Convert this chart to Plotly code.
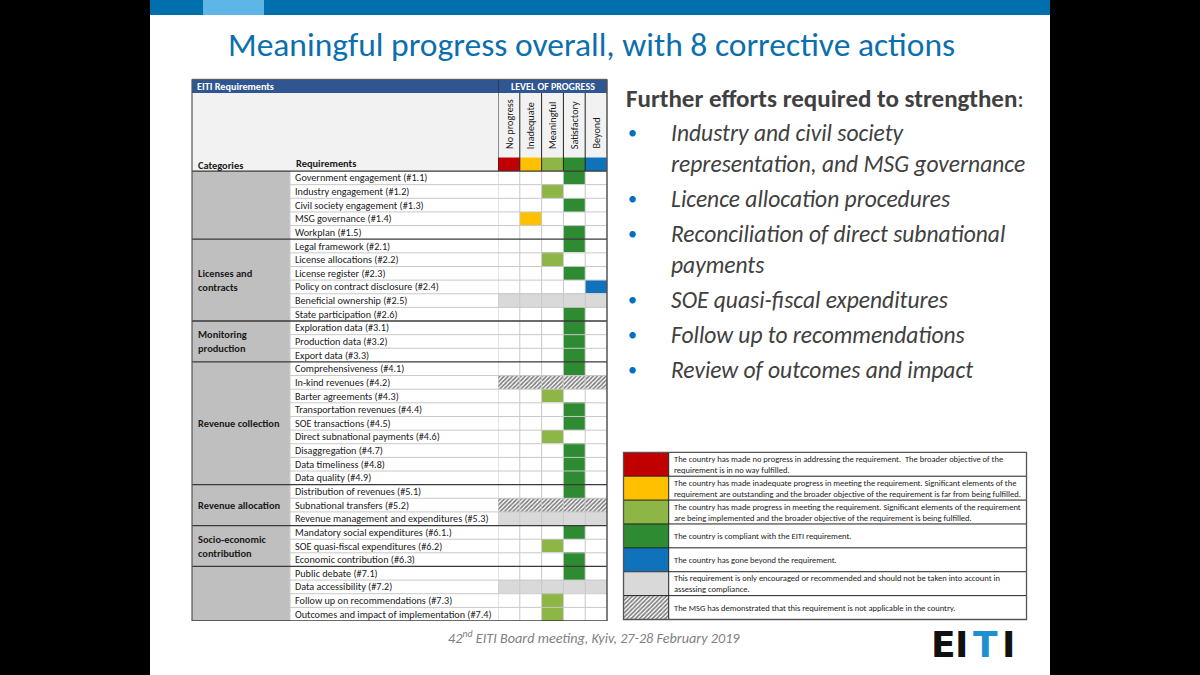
import plotly.graph_objects as go

# ---------------- data ----------------
TITLE = "Meaningful progress overall, with 8 corrective actions"
LEVELS = ["No progress", "Inadequate", "Meaningful", "Satisfactory", "Beyond"]
LEVEL_COLORS = ["#C00000", "#FFC000", "#8DB646", "#2E8B32", "#0F72BA"]
ENCOURAGED_COLOR = "#D9D9D9"

CATEGORY_LABELS = ["", "Licenses and<br>contracts", "Monitoring<br>production",
                   "Revenue collection", "Revenue allocation",
                   "Socio-economic<br>contribution", ""]
CATEGORY_SIZES = [5, 6, 3, 9, 3, 3, 4]

REQUIREMENTS = [
    "Government engagement (#1.1)", "Industry engagement (#1.2)",
    "Civil society engagement (#1.3)", "MSG governance (#1.4)", "Workplan (#1.5)",
    "Legal framework (#2.1)", "License allocations (#2.2)", "License register (#2.3)",
    "Policy on contract disclosure (#2.4)", "Beneficial ownership (#2.5)",
    "State participation (#2.6)",
    "Exploration data (#3.1)", "Production data (#3.2)", "Export data (#3.3)",
    "Comprehensiveness (#4.1)", "In-kind revenues (#4.2)", "Barter agreements (#4.3)",
    "Transportation revenues (#4.4)", "SOE transactions (#4.5)",
    "Direct subnational payments (#4.6)", "Disaggregation (#4.7)",
    "Data timeliness (#4.8)", "Data quality (#4.9)",
    "Distribution of revenues (#5.1)", "Subnational transfers (#5.2)",
    "Revenue management and expenditures (#5.3)",
    "Mandatory social expenditures (#6.1.)", "SOE quasi-fiscal expenditures (#6.2)",
    "Economic contribution (#6.3)",
    "Public debate (#7.1)", "Data accessibility (#7.2)",
    "Follow up on recommendations (#7.3)", "Outcomes and impact of implementation (#7.4)",
]
# S=Satisfactory, M=Meaningful, I=Inadequate, B=Beyond, E=Encouraged only, NA=not applicable
PROGRESS = ["S", "M", "S", "I", "S",
            "S", "M", "S", "B", "E", "S",
            "S", "S", "S",
            "S", "NA", "M", "S", "S", "M", "S", "S", "S",
            "S", "NA", "E",
            "S", "M", "S",
            "S", "E", "M", "M"]
CODE_TO_LEVEL = {"N": 0, "I": 1, "M": 2, "S": 3, "B": 4}

LEGEND_TEXTS = [
    "The country has made no progress in addressing the requirement.  The broader objective of the<br>requirement is in no way fulfilled.",
    "The country has made inadequate progress in meeting the requirement. Significant elements of the<br>requirement are outstanding and the broader objective of the requirement is far from being fulfilled.",
    "The country has made progress in meeting the requirement. Significant elements of the requirement<br>are being implemented and the broader objective of the requirement is being fulfilled.",
    "The country is compliant with the EITI requirement.",
    "The country has gone beyond the requirement.",
    "This requirement is only encouraged or recommended and should not be taken into account in<br>assessing compliance.",
    "The MSG has demonstrated that this requirement is not applicable in the country.",
]

SUBHEAD = "<b>Further efforts required to strengthen</b>:"
BULLETS = [
    ["Industry and civil society", "representation, and MSG governance"],
    ["Licence allocation procedures"],
    ["Reconciliation of direct subnational", "payments"],
    ["SOE quasi-fiscal expenditures"],
    ["Follow up to recommendations"],
    ["Review of outcomes and impact"],
]
FOOTER = "42<sup>nd</sup> EITI Board meeting, Kyiv, 27-28 February 2019"
LOGO_LETTERS = ["E", "I", "T", "I"]
LOGO_COLORS = ["#111111", "#111111", "#1E90D0", "#111111"]

# ---------------- layout helpers ----------------
W, H = 1200, 675
def px(x): return x / W
def py(y): return 1 - y / H

FONT = "Carlito, Lato, sans-serif"
N = len(REQUIREMENTS)
T_LEFT, T_CAT, T_LVL, T_RIGHT = 192, 290, 498, 607
T_TOP, HEAD_GRAY, STRIPE_TOP, ROWS_TOP, ROWS_BOT = 79.3, 93, 157.4, 171, 621

fig = go.Figure()

HATCH = dict(shape="/", fgcolor="#000000", bgcolor="white", size=3, solidity=0.55)

# ---- table cells ----
for li, (lname, lcol) in enumerate(zip(LEVELS, LEVEL_COLORS)):
    rows = [i for i, c in enumerate(PROGRESS) if CODE_TO_LEVEL.get(c) == li]
    ys = [-1] + rows  # header colour stripe + cells
    fig.add_trace(go.Bar(orientation="h", y=ys, x=[1] * len(ys), base=[li - 0.5] * len(ys),
                         width=1, marker=dict(color=lcol, line=dict(width=0)),
                         name=lname, showlegend=False, hoverinfo="skip"))
rows_e = [i for i, c in enumerate(PROGRESS) if c == "E"]
fig.add_trace(go.Bar(orientation="h", y=rows_e, x=[len(LEVELS)] * len(rows_e),
                     base=[-0.5] * len(rows_e), width=1,
                     marker=dict(color=ENCOURAGED_COLOR, line=dict(width=0)),
                     showlegend=False, hoverinfo="skip"))
rows_na = [i for i, c in enumerate(PROGRESS) if c == "NA"]
fig.add_trace(go.Bar(orientation="h", y=rows_na, x=[len(LEVELS)] * len(rows_na),
                     base=[-0.5] * len(rows_na), width=1,
                     marker=dict(color="white", line=dict(width=0), pattern=HATCH),
                     showlegend=False, hoverinfo="skip"))

# ---- legend swatches ----
sw_colors = LEVEL_COLORS + [ENCOURAGED_COLOR]
fig.add_trace(go.Bar(orientation="h", xaxis="x2", yaxis="y2",
                     y=list(range(len(sw_colors))), x=[1] * len(sw_colors),
                     base=[0] * len(sw_colors), width=1,
                     marker=dict(color=sw_colors, line=dict(width=0)),
                     showlegend=False, hoverinfo="skip"))
fig.add_trace(go.Bar(orientation="h", xaxis="x2", yaxis="y2",
                     y=[len(sw_colors)], x=[1], base=[0], width=1,
                     marker=dict(color="white", line=dict(width=0), pattern=HATCH),
                     showlegend=False, hoverinfo="skip"))

shapes = []
def rect(x0, x1, y0, y1, color, xref="paper", yref="paper", layer="below", line=None):
    shapes.append(dict(type="rect", xref=xref, yref=yref, x0=x0, x1=x1, y0=y0, y1=y1,
                       fillcolor=color, line=line or dict(width=0), layer=layer))
def line(x0, x1, y0, y1, color, w=1, xref="paper", yref="paper"):
    shapes.append(dict(type="line", xref=xref, yref=yref, x0=x0, x1=x1, y0=y0, y1=y1,
                       line=dict(color=color, width=w), layer="above"))

# slide background and top bar
rect(px(150), px(1050), 0, 1, "white")
rect(px(150), px(1050), py(15), 1, "#0070AC")
rect(px(203), px(264), py(15), 1, "#5DB6E6")

# table header
rect(px(T_LEFT), px(T_RIGHT), py(HEAD_GRAY), py(T_TOP), "#2F5690")
rect(px(T_LEFT), px(T_LVL), py(ROWS_TOP), py(HEAD_GRAY), "#F2F2F2")
rect(px(T_LVL), px(T_RIGHT), py(STRIPE_TOP), py(HEAD_GRAY), "#F2F2F2")
# category column
rect(px(T_LEFT), px(T_CAT), N - 0.5, -0.5, "#BFBFBF", yref="y")

# thin row lines
group_starts = []
s = 0
for n in CATEGORY_SIZES:
    group_starts.append(s)
    s += n
for r in range(N - 1):
    if (r + 1) not in group_starts:
        line(px(T_CAT), px(T_RIGHT), r + 0.5, r + 0.5, "#C8C8C8", 1, yref="y")
# vertical light lines in body
for c in range(len(LEVELS)):
    line(c - 0.5, c - 0.5, -0.5, N - 0.5, "#C8C8C8", 1, xref="x", yref="y")
line(px(T_CAT), px(T_CAT), -0.5, N - 0.5, "#C8C8C8", 1, yref="y")
# header vertical dark lines
for c in range(len(LEVELS)):
    line(c - 0.5, c - 0.5, py(ROWS_TOP), py(HEAD_GRAY), "#222", 1, xref="x")
line(-0.5, -0.5, py(HEAD_GRAY), py(T_TOP), "#222", 1, xref="x")
# group separator lines
for g in group_starts + [N]:
    line(px(T_LEFT), px(T_RIGHT), g - 0.5, g - 0.5, "#3A3A3A", 1.3, yref="y")
# outer borders
line(px(T_LEFT), px(T_LEFT), py(ROWS_BOT), py(T_TOP), "#555", 1.2)
line(px(T_RIGHT), px(T_RIGHT), py(ROWS_BOT), py(T_TOP), "#555", 1.5)
line(px(T_LEFT), px(T_RIGHT), py(T_TOP), py(T_TOP), "#555", 1)

# legend box lines
L_LEFT, L_SW, L_RIGHT, L_TOP, L_BOT = 623.5, 668.7, 1026.5, 452.3, 619.5
for r in range(len(LEGEND_TEXTS) - 1):
    line(px(L_LEFT), px(L_RIGHT), r + 0.5, r + 0.5, "#222", 1, yref="y2")
line(px(L_SW), px(L_SW), py(L_BOT), py(L_TOP), "#222", 1)
shapes.append(dict(type="rect", xref="paper", yref="paper", x0=px(L_LEFT), x1=px(L_RIGHT),
                   y0=py(L_BOT), y1=py(L_TOP), line=dict(color="#555", width=1.3),
                   fillcolor="rgba(0,0,0,0)", layer="above"))

ann = []
def text(x, y, t, size, color="#1a1a1a", xanchor="left", yanchor="middle", xref="paper",
         yref="paper", family=FONT, angle=0, weight=None, style=None):
    f = dict(size=size, color=color, family=family)
    if weight: f["weight"] = weight
    if style: f["style"] = style
    ann.append(dict(x=x, y=y, xref=xref, yref=yref, text=t, showarrow=False, xanchor=xanchor,
                    yanchor=yanchor, font=f, textangle=angle, align="left"))

# title
text(px(591), py(45), TITLE, 33.5, color="#0C6FAD", xanchor="center")
# table header texts
text(px(195), py(86.6), "<b>EITI Requirements</b>", 10.2, color="white")
text(0.5 * (px(T_LVL) + px(T_RIGHT)), py(86.6), "<b>LEVEL OF PROGRESS</b>", 10.0,
     color="white", xanchor="center")
text(px(196), py(165), "<b>Categories</b>", 10.4)
text(px(294), py(163.5), "<b>Requirements</b>", 10.4)
for c, lname in enumerate(LEVELS):
    text(c, py(151), lname, 10.2, xref="x", xanchor="center", yanchor="bottom", angle=-90)
# requirement names
for r, req in enumerate(REQUIREMENTS):
    text(px(293), r, req, 10.2, xref="paper", yref="y")
# category labels
for g, (lab, n) in enumerate(zip(CATEGORY_LABELS, CATEGORY_SIZES)):
    if lab:
        text(px(196), group_starts[g] + (n - 1) / 2, "<b>" + lab + "</b>", 10.4, yref="y")
# legend texts
for r, t in enumerate(LEGEND_TEXTS):
    text(px(672), r, t, 8.5, yref="y2")
# right-hand text
text(px(624), py(98), SUBHEAD, 25, color="#404040")
yy = 133
for lines_ in BULLETS:
    text(px(626), py(yy), "•", 18, color="#0070C0")
    for k, ln in enumerate(lines_):
        text(px(669), py(yy), ln, 23.5, color="#404040", style="italic")
        yy += 31
    yy += 4
# footer
text(px(594), py(637), FOOTER, 14.2, color="#7F7F7F", xanchor="center", style="italic")
# logo letters
LOGO_X = [943, 961.5, 985, 1008]
for lx, letter, lc in zip(LOGO_X, LOGO_LETTERS, LOGO_COLORS):
    text(px(lx), py(644), "<b>" + letter + "</b>", 36, color=lc, xanchor="center",
         family="DejaVu Sans")

fig.update_layout(
    width=W, height=H, margin=dict(l=0, r=0, t=0, b=0),
    paper_bgcolor="black", plot_bgcolor="rgba(0,0,0,0)",
    barmode="overlay", bargap=0, showlegend=False,
    shapes=shapes, annotations=ann,
    xaxis=dict(domain=[px(T_LVL), px(T_RIGHT)], range=[-0.5, len(LEVELS) - 0.5],
               visible=False, fixedrange=True),
    yaxis=dict(domain=[py(ROWS_BOT), py(STRIPE_TOP)], range=[N - 0.5, -1.5],
               visible=False, fixedrange=True),
    xaxis2=dict(domain=[px(L_LEFT), px(L_SW)], range=[0, 1], visible=False,
                fixedrange=True, anchor="y2"),
    yaxis2=dict(domain=[py(L_BOT), py(L_TOP)], range=[len(LEGEND_TEXTS) - 0.5, -0.5],
                visible=False, fixedrange=True, anchor="x2"),
)

fig.write_html("out.html", config={"displayModeBar": False},
               post_script="document.body.style.margin='0';document.body.style.background='black';")
